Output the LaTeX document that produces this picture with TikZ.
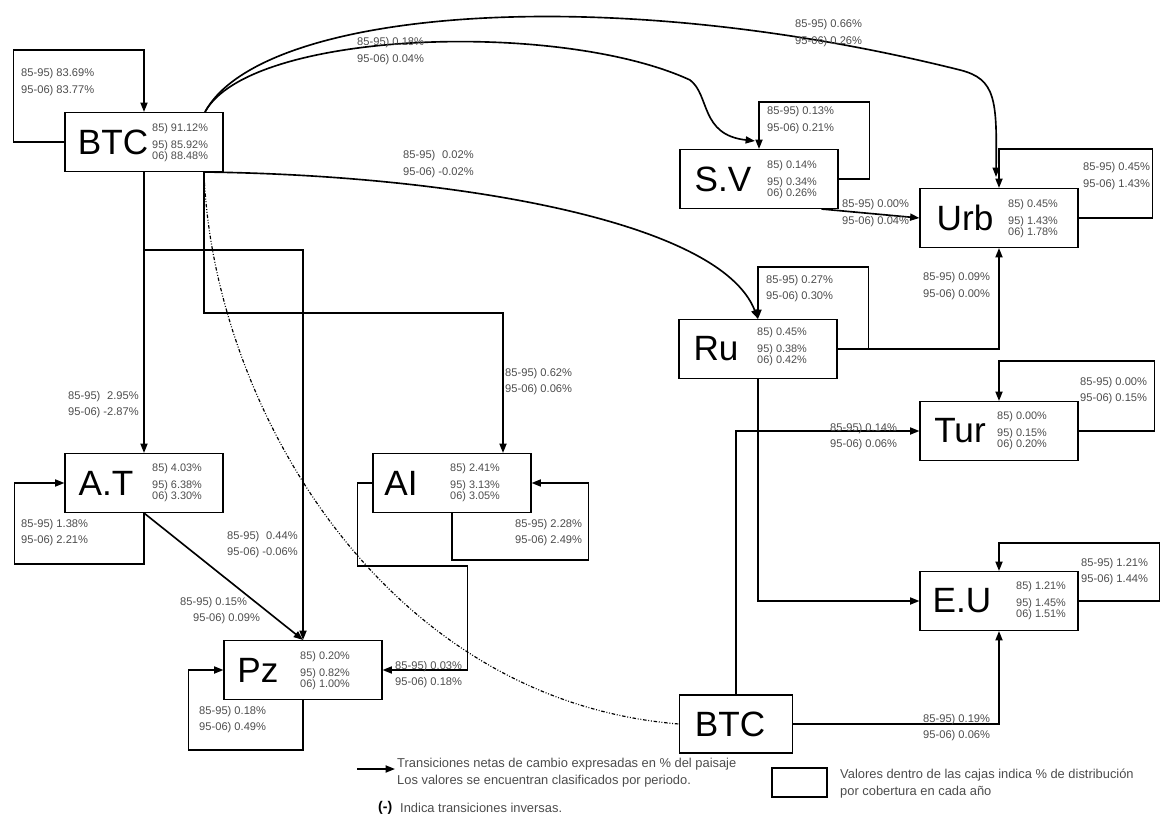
\documentclass[tikz,border=0pt]{standalone}
\usepackage{fontspec}
\setmainfont{Liberation Sans}
\usetikzlibrary{arrows.meta,calc}
\tikzset{
  covbox/.style={draw=black,line width=0.9pt,minimum width=4.74cm,minimum height=1.77cm,inner sep=0pt},
  covname/.style={inner sep=0pt,font=\fontsize{30}{30}\selectfont},
  covpct/.style={anchor=west,align=left,inner sep=0pt,text=black!70,font=\fontsize{9.3}{11}\selectfont},
  flowarrow/.style={-{Triangle[length=8pt,width=6pt]},line width=1.4pt},
  flowlabel/.style={anchor=base west,yshift=-14pt,align=left,inner sep=0pt,text=black!70,font=\fontsize{9.5}{14}\selectfont},
  backline/.style={line width=1pt,dash pattern=on 3pt off 1.5pt on 0.8pt off 1.5pt on 0.8pt off 1.5pt},
  legtext/.style={anchor=west,align=left,inner sep=0pt,text=black!70,font=\fontsize{11}{14.5}\selectfont}
}

\begin{document}
\begin{tikzpicture}[x=0.03cm,y=-0.03cm]
  \useasboundingbox (0,0) rectangle (1167,817);

  % cajas de cobertura
  \node[covbox] (nBTC) at (144,142) {};
  \node[covbox] (nSV) at (759,179) {};
  \node[covbox] (nUrb) at (999,218) {};
  \node[covbox] (nRu) at (758,349) {};
  \node[covbox] (nTur) at (999,431) {};
  \node[covbox] (nEU) at (999,601) {};
  \node[covbox] (nAT) at (144,483) {};
  \node[covbox] (nAI) at (452,483) {};
  \node[covbox] (nPz) at (303,670) {};
  \node[covbox,minimum width=3.39cm,minimum height=1.74cm] (nBTCb) at (736,724) {};

  \node[covname] (tBTC) at (113,142) {BTC};
  \node[covname] (tSV) at (723,179) {S.V};
  \node[covname] (tUrb) at (965,218) {Urb};
  \node[covname] (tRu) at (716,349) {Ru};
  \node[covname] (tTur) at (960,431) {Tur};
  \node[covname] (tEU) at (962,601) {E.U};
  \node[covname] (tAT) at (106,483) {A.T};
  \node[covname] (tAI) at (401,483) {AI};
  \node[covname] (tPz) at (258,670) {Pz};
  \node[covname] (tBTCb) at (730,724) {BTC};

  \node[covpct] (pBTC) at (152,143) {85) 91.12\%\\[3.5pt]95) 85.92\%\\[-1.6pt]06) 88.48\%};
  \node[covpct] (pSV) at (767,180) {85) 0.14\%\\[3.5pt]95) 0.34\%\\[-1.6pt]06) 0.26\%};
  \node[covpct] (pUrb) at (1008,219) {85) 0.45\%\\[3.5pt]95) 1.43\%\\[-1.6pt]06) 1.78\%};
  \node[covpct] (pRu) at (757,347) {85) 0.45\%\\[3.5pt]95) 0.38\%\\[-1.6pt]06) 0.42\%};
  \node[covpct] (pTur) at (997,431) {85) 0.00\%\\[3.5pt]95) 0.15\%\\[-1.6pt]06) 0.20\%};
  \node[covpct] (pEU) at (1016,601) {85) 1.21\%\\[3.5pt]95) 1.45\%\\[-1.6pt]06) 1.51\%};
  \node[covpct] (pAT) at (152,483) {85) 4.03\%\\[3.5pt]95) 6.38\%\\[-1.6pt]06) 3.30\%};
  \node[covpct] (pAI) at (450,483) {85) 2.41\%\\[3.5pt]95) 3.13\%\\[-1.6pt]06) 3.05\%};
  \node[covpct] (pPz) at (300,671) {85) 0.20\%\\[3.5pt]95) 0.82\%\\[-1.6pt]06) 1.00\%};

  % permanencias
  \draw[flowarrow] (nBTC.west) -- ++(-51,0) -- ++(0,-92) -| (nBTC.north);
  \draw[flowarrow] (nSV.east) -- ++(31,0) -- ++(0,-77) -| (nSV.north);
  \draw[flowarrow] (nUrb.east) -- ++(74,0) -- ++(0,-69) -| (nUrb.north);
  \draw[flowarrow] (nRu.east) -- ++(31,0) -- ++(0,-82) -| (nRu.north);
  \draw[flowarrow] (nTur.east) -- ++(76,0) -- ++(0,-70) -| (nTur.north);
  \draw[flowarrow] (nEU.east) -- ++(81,0) -- ++(0,-58) -| (nEU.north);
  \draw[flowarrow] (nAT.south) -- ++(0,51) -| ($(nAT.west)+(-50,0)$) -- (nAT.west);
  \draw[flowarrow] (nAI.south) -- ++(0,47) -| ($(nAI.east)+(57,0)$) -- (nAI.east);
  \draw[flowarrow] (nPz.south) -- ++(0,50) -| ($(nPz.west)+(-35,0)$) -- (nPz.west);

  % transiciones desde BTC
  \draw[flowarrow] ($(nBTC.north)+(61,0)$) .. controls (260,10) and (600,-20) .. (960,70)
    .. controls (996,79) and (997,100) .. ($(nUrb.north)+(-3,-11)$);
  \draw[flowarrow] ($(nBTC.north)+(61,0)$) .. controls (250,30) and (560,20) .. (690,80)
    .. controls (710,95) and (700,135) .. ($(nSV.north)+(-4,-8)$);
  \draw[flowarrow] ($(nBTC.south)+(60,0)$) .. controls (450,175) and (720,220) .. (nRu.north);
  \draw[flowarrow] (nBTC.south) -- (nAT.north);
  \draw[flowarrow] (nBTC.south) -- ++(0,78) -| (nPz.north);
  \draw[flowarrow] ($(nBTC.south)+(60,0)$) -- ++(0,141) -| ($(nAI.north)+(51,0)$);
  \draw[backline] ($(nBTC.south)+(60,0)$) .. controls (212,400) and (380,700) .. (nBTCb.west);

  % otras transiciones
  \draw[flowarrow] ($(nSV.south east)+(-17,0)$) -- (nUrb.west);
  \draw[flowarrow] (nRu.east) -| (nUrb.south);
  \draw[flowarrow] (nRu.south) |- (nEU.west);
  \draw[flowarrow] (nBTCb.north) |- (nTur.west);
  \draw[flowarrow] (nBTCb.east) -| (nEU.south);
  \draw[flowarrow] (nAT.south) -- (nPz.north);
  \draw[flowarrow] (nAI.west) -- ++(-15,0) -- ++(0,83) -- ++(110,0) |- (nPz.east);

  % valores de las flechas
  \node[flowlabel] (lBTC) at (21,77) {85-95) 83.69\%\\95-06) 83.77\%};
  \node[flowlabel] (lBTCSV) at (357,46) {85-95) 0.18\%\\95-06) 0.04\%};
  \node[flowlabel] (lBTCUrb) at (795,28) {85-95) 0.66\%\\95-06) 0.26\%};
  \node[flowlabel] (lBTCRu) at (403,159) {85-95) \phantom{-}0.02\%\\95-06) -0.02\%};
  \node[flowlabel] (lSV) at (767,115) {85-95) 0.13\%\\95-06) 0.21\%};
  \node[flowlabel] (lSVUrb) at (842,208) {85-95) 0.00\%\\95-06) 0.04\%};
  \node[flowlabel] (lUrb) at (1083,171) {85-95) 0.45\%\\95-06) 1.43\%};
  \node[flowlabel] (lRu) at (766,283) {85-95) 0.27\%\\95-06) 0.30\%};
  \node[flowlabel] (lRuUrb) at (923,281) {85-95) 0.09\%\\95-06) 0.00\%};
  \node[flowlabel] (lTur) at (1080,385) {85-95) 0.00\%\\95-06) 0.15\%};
  \node[flowlabel] (lBTCTur) at (830,431) {85-95) 0.14\%\\95-06) 0.06\%};
  \node[flowlabel] (lEU) at (1081,566) {85-95) 1.21\%\\95-06) 1.44\%};
  \node[flowlabel] (lBTCEU) at (923,722) {85-95) 0.19\%\\95-06) 0.06\%};
  \node[flowlabel] (lBTCAT) at (68,399) {85-95) \phantom{-}2.95\%\\95-06) -2.87\%};
  \node[flowlabel] (lBTCAI) at (505,376) {85-95) 0.62\%\\95-06) 0.06\%};
  \node[flowlabel] (lAT) at (21,527) {85-95) 1.38\%\\95-06) 2.21\%};
  \node[flowlabel] (lAI) at (515,527) {85-95) 2.28\%\\95-06) 2.49\%};
  \node[flowlabel] (lBTCPz) at (227,539) {85-95) \phantom{-}0.44\%\\95-06) -0.06\%};
  \node[flowlabel] (lATPz) at (180,605) {85-95) 0.15\%\\\hspace{11pt}95-06) 0.09\%};
  \node[flowlabel] (lAIPz) at (395,669) {85-95) 0.03\%\\95-06) 0.18\%};
  \node[flowlabel] (lPz) at (199,714) {85-95) 0.18\%\\95-06) 0.49\%};

  % leyenda
  \coordinate (legA) at (357,769);
  \coordinate (legB) at (395,769);
  \draw[flowarrow] (legA) -- (legB);
  \node[legtext] (legFlow) at (397,773) {Transiciones netas de cambio expresadas en \% del paisaje\\Los valores se encuentran clasificados por periodo.};
  \node[legtext,text=black,font=\fontsize{12}{12}\bfseries] (legMinus) at (378,808) {(-)};
  \node[legtext] (legInv) at (400,808) {Indica transiciones inversas.};
  \node[draw=black,line width=0.9pt,minimum width=1.65cm,minimum height=0.87cm,inner sep=0pt] (legBox) at (799.5,782.5) {};
  \node[legtext] (legBoxT) at (840,784) {Valores dentro de las cajas indica \% de distribución\\por cobertura en cada año};
\end{tikzpicture}
\end{document}
